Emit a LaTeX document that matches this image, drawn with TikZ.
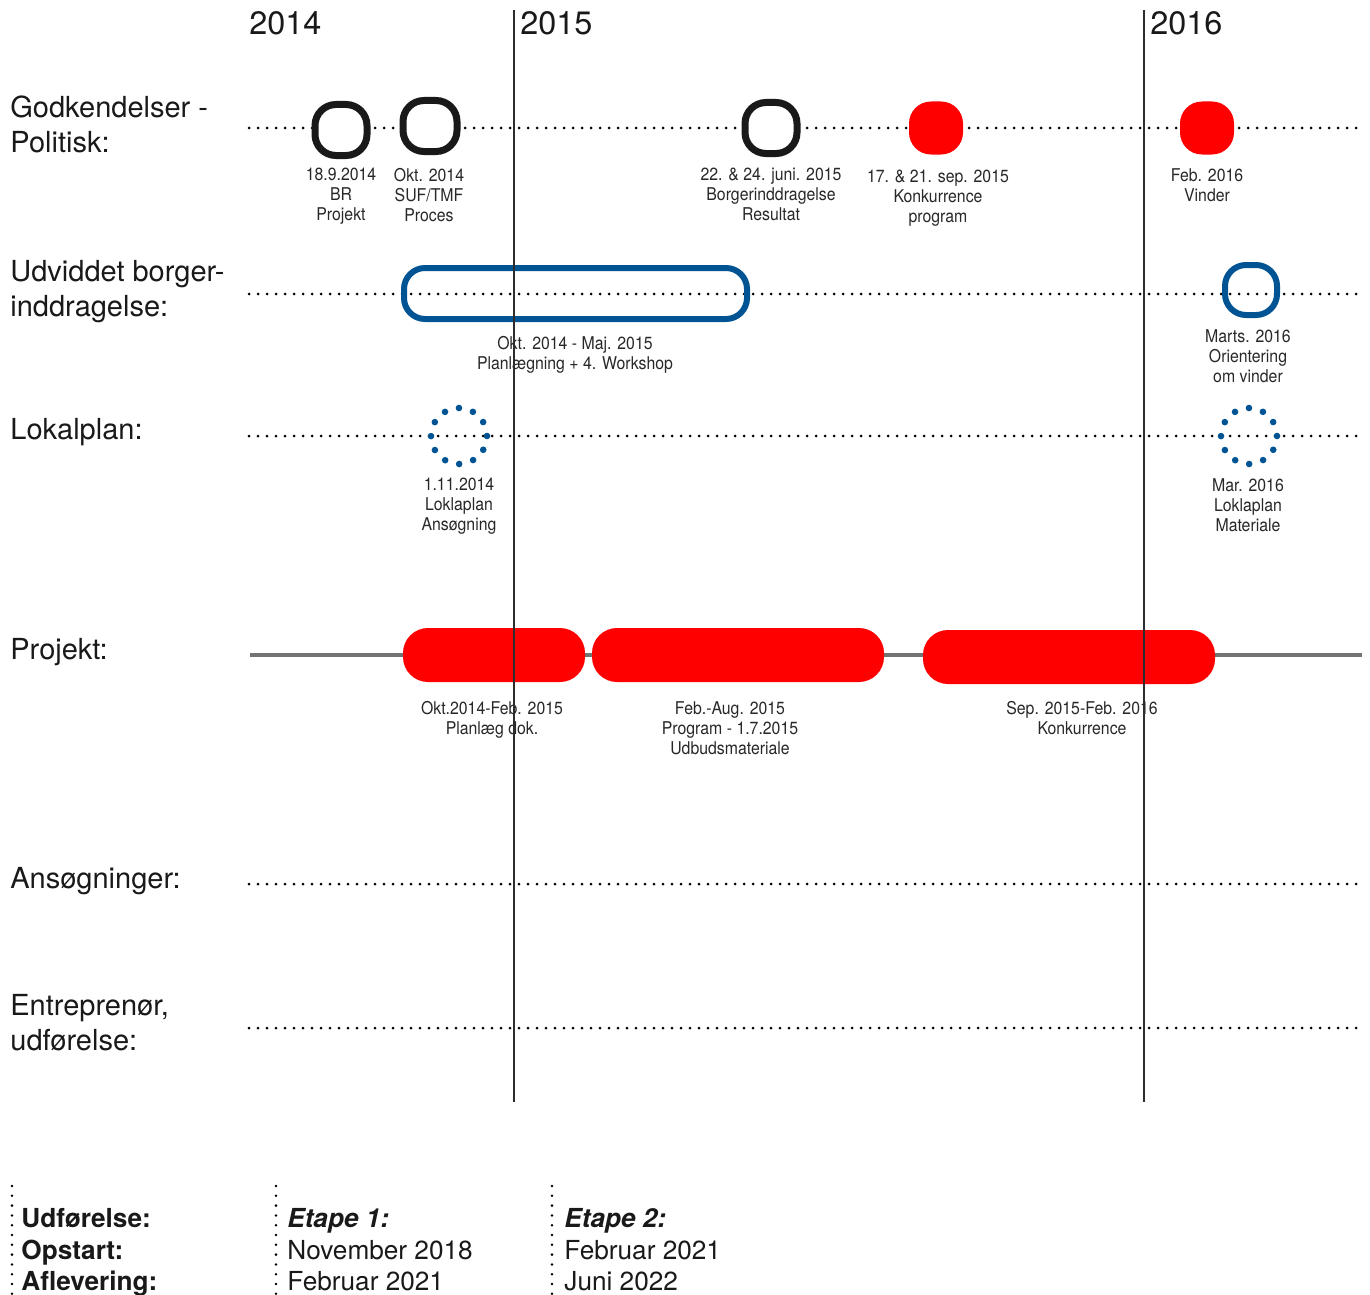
\documentclass[tikz,border=0pt]{standalone}
\usepackage{fontspec}
\setmainfont{TeX Gyre Heros}
\newfontfamily\smallfont[FakeStretch=0.9]{TeX Gyre Heros}
\definecolor{bl}{RGB}{0,84,147}
\definecolor{txt}{RGB}{40,40,40}
\definecolor{vline}{RGB}{45,45,45}
\begin{document}
\begin{tikzpicture}[x=0.5pt,y=-0.5pt,
  dotrow/.style={line width=1.5pt,line cap=round,dash pattern=on 0pt off 4.5pt,black},
  dotcol/.style={line width=1.4pt,line cap=round,dash pattern=on 0pt off 4.9pt,black},
  yearline/.style={line width=1.2pt,vline},
  projline/.style={line width=2pt,black!55},
  ring/.style={draw=black!90,line width=3.5pt,fill=white,rounded corners=10.5pt,minimum width=26pt,minimum height=25.5pt,inner sep=0pt},
  redmark/.style={fill=red,rounded corners=11pt,minimum width=27pt,minimum height=26.5pt,inner sep=0pt},
  bluering/.style={draw=bl,line width=3pt,rounded corners=10.5pt,inner sep=0pt},
  dotcirc/.style={circle,draw=bl,line width=3.3pt,line cap=round,dash pattern=on 0pt off 7.33pt,minimum size=28pt,inner sep=0pt},
  redbar/.style={fill=red,rounded corners=12.5pt,minimum height=27pt,inner sep=0pt},
  small/.style={font=\smallfont\fontsize{8.8}{10}\selectfont,text=txt,align=center,anchor=north,inner sep=0pt},
  rowlab/.style={font=\fontsize{14.5}{17.5}\selectfont,text=black!90,align=left,anchor=north west,inner sep=0pt},
  yearlab/.style={font=\fontsize{16.2}{20}\selectfont,text=black!90,anchor=north west,inner sep=0pt},
  botlab/.style={font=\fontsize{13.1}{15.75}\selectfont,text=black!90,align=left,anchor=north west,inner sep=0pt}]
\useasboundingbox (0,0) rectangle (1370,1295);

% row lines
\coordinate (r1a) at (249,128); \coordinate (r1b) at (1362,128);
\coordinate (r2a) at (249,294); \coordinate (r2b) at (1362,294);
\coordinate (r3a) at (249,436); \coordinate (r3b) at (1362,436);
\coordinate (r4a) at (250,655); \coordinate (r4b) at (1362,655);
\coordinate (r5a) at (249,884); \coordinate (r5b) at (1362,884);
\coordinate (r6a) at (249,1028); \coordinate (r6b) at (1362,1028);
\draw[dotrow] (r1a) -- (r1b);
\draw[dotrow] (r2a) -- (r2b);
\draw[dotrow] (r3a) -- (r3b);
\draw[projline] (r4a) -- (r4b);
\draw[dotrow] (r5a) -- (r5b);
\draw[dotrow] (r6a) -- (r6b);

% row labels
\node[rowlab] (lab1) at (10,95) {Godkendelser -\\Politisk:};
\node[rowlab] (lab2) at (10,260) {Udviddet borger-\\inddragelse:};
\node[rowlab] (lab3) at (10,418) {Lokalplan:};
\node[rowlab] (lab4) at (10,638) {Projekt:};
\node[rowlab] (lab5) at (10,867) {Ansøgninger:};
\node[rowlab] (lab6) at (10,994) {Entreprenør,\\udførelse:};

% years
\node[yearlab] (y14) at (249,11) {2014};
\node[yearlab] (y15) at (520,11) {2015};
\node[yearlab] (y16) at (1150,11) {2016};

% Godkendelser markers
\node[ring] (g1) at (341,130) {};
\node[ring,minimum width=27pt] (g2) at (430,126) {};
\node[ring] (g3) at (771,128) {};
\node[redmark] (g4) at (936,128) {};
\node[redmark] (g5) at (1207,128) {};
\node[small] (t1) at (341,168) {18.9.2014\\BR\\Projekt};
\node[small] (t2) at (429,168) {Okt. 2014\\SUF/TMF\\Proces};
\node[small] (t3) at (771,168) {22. \& 24. juni. 2015\\Borgerinddragelse\\Resultat};
\node[small] (t4) at (938,170) {17. \& 21. sep. 2015\\Konkurrence\\program};
\node[small] (t5) at (1207,168) {Feb. 2016\\Vinder};

% Udviddet borgerinddragelse
\node[bluering,minimum width=171.5pt,minimum height=25.5pt] (b1) at (575.5,293.5) {};
\node[bluering,minimum width=26pt,minimum height=25pt] (b2) at (1251,290) {};
\node[small] (t6) at (575,336) {Okt. 2014 - Maj. 2015\\Planlægning + 4. Workshop};
\node[small] (t7) at (1248,329) {Marts. 2016\\Orientering\\om vinder};

% Lokalplan
\node[dotcirc] (c1) at (459,436) {};
\node[dotcirc] (c2) at (1249,436) {};
\node[small] (t8) at (459,478) {1.11.2014\\Loklaplan\\Ansøgning};
\node[small] (t9) at (1248,478) {Mar. 2016\\Loklaplan\\Materiale};

% Projekt bars
\node[redbar,minimum width=91pt] (p1) at (494,655) {};
\node[redbar,minimum width=146pt] (p2) at (738,655) {};
\node[redbar,minimum width=146pt] (p3) at (1069,657) {};
\node[small] (t10) at (492,701) {Okt.2014-Feb. 2015\\Planlæg dok.};
\node[small] (t11) at (730,701) {Feb.-Aug. 2015\\Program - 1.7.2015\\Udbudsmateriale};
\node[small] (t12) at (1082,701) {Sep. 2015-Feb. 2016\\Konkurrence};

% year lines on top
\coordinate (v1a) at (514,10); \coordinate (v1b) at (514,1102);
\coordinate (v2a) at (1144,10); \coordinate (v2b) at (1144,1102);
\draw[yearline] (v1a) -- (v1b);
\draw[yearline] (v2a) -- (v2b);

% bottom
\coordinate (d1a) at (12,1186); \coordinate (d1b) at (12,1298);
\coordinate (d2a) at (276,1186); \coordinate (d2b) at (276,1298);
\coordinate (d3a) at (552,1186); \coordinate (d3b) at (552,1298);
\draw[dotcol] (d1a) -- (d1b);
\draw[dotcol] (d2a) -- (d2b);
\draw[dotcol] (d3a) -- (d3b);
\node[botlab] (e0) at (21,1208) {\textbf{Udførelse:}\\\textbf{Opstart:}\\\textbf{Aflevering:}};
\node[botlab] (e1) at (287,1208) {\textbf{\textit{Etape 1:}}\\November 2018\\Februar 2021};
\node[botlab] (e2) at (564,1208) {\textbf{\textit{Etape 2:}}\\Februar 2021\\Juni 2022};
\end{tikzpicture}
\end{document}
